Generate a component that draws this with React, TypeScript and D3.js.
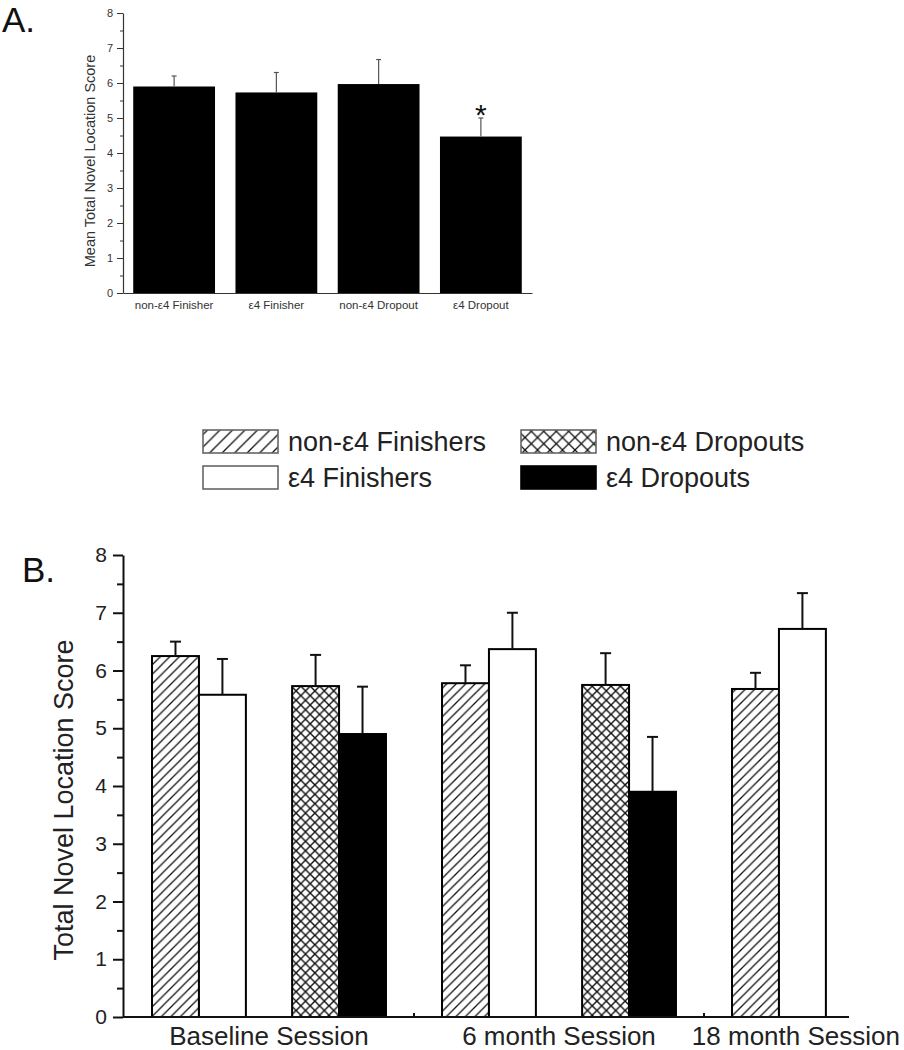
import React, { useEffect, useRef } from 'react';
import * as d3 from 'd3';

// panel A: mean total novel location score per group
const aGroups = ['non-ε4 Finisher', 'ε4 Finisher', 'non-ε4 Dropout', 'ε4 Dropout'];
const aMeans = [5.9, 5.73, 5.97, 4.47];
const aErrors = [0.3, 0.57, 0.7, 0.53];
const aStarred = [false, false, false, true];
const aTicks = [0, 1, 2, 3, 4, 5, 6, 7, 8];

// panel B: per session
const sessions = ['Baseline Session', '6 month Session', '18 month Session'];
const groupNames = ['non-ε4 Finishers', 'ε4 Finishers', 'non-ε4 Dropouts', 'ε4 Dropouts'];
const groupCluster = ['Finishers', 'Finishers', 'Dropouts', 'Dropouts'];
const groupSub = ['non-ε4', 'ε4', 'non-ε4', 'ε4'];
const nonE4FinMeans = [6.25, 5.78, 5.68];
const nonE4FinErrors = [0.25, 0.31, 0.28];
const e4FinMeans = [5.58, 6.37, 6.72];
const e4FinErrors = [0.62, 0.63, 0.62];
const nonE4DropMeans = [5.73, 5.75, null];
const nonE4DropErrors = [0.54, 0.55, null];
const e4DropMeans = [4.9, 3.9, null];
const e4DropErrors = [0.82, 0.95, null];
const bTicks = [0, 1, 2, 3, 4, 5, 6, 7, 8];

const W = 904;
const H = 1050;
const FONT = 'Liberation Sans, Arial, sans-serif';

const App: React.FC = () => {
  const ref = useRef<SVGSVGElement>(null);

  useEffect(() => {
    if (!ref.current) return;
    const svg = d3.select(ref.current);
    svg.selectAll('*').remove();

    const defs = svg.append('defs');
    const makePattern = (id: string, s: number, cross: boolean, sw: number) => {
      const p = defs
        .append('pattern')
        .attr('id', id)
        .attr('patternUnits', 'userSpaceOnUse')
        .attr('width', s)
        .attr('height', s);
      p.append('rect').attr('width', s).attr('height', s).attr('fill', '#fff');
      p.append('path')
        .attr('d', `M0,${s} L${s},0 M${-s / 4},${s / 4} L${s / 4},${-s / 4} M${s * 0.75},${s * 1.25} L${s * 1.25},${s * 0.75}`)
        .attr('stroke', '#111')
        .attr('stroke-width', sw);
      if (cross) {
        p.append('path')
          .attr('d', `M0,0 L${s},${s} M${-s / 4},${s * 0.75} L${s / 4},${s * 1.25} M${s * 0.75},${-s / 4} L${s * 1.25},${s / 4}`)
          .attr('stroke', '#111')
          .attr('stroke-width', sw);
      }
    };
    makePattern('hatchB', 9.5, false, 1.3);
    makePattern('crossB', 9.4, true, 1.4);
    makePattern('hatchL', 12.5, false, 1.3);
    makePattern('crossL', 12.5, true, 1.3);

    // ---------- Panel A ----------
    const aLeft = 123, aRight = 532, aTop = 13, aBottom = 293;
    const ax = d3.scaleBand<string>().domain(aGroups).range([aLeft, aRight]).paddingInner(0.2).paddingOuter(0.1);
    const ay = d3.scaleLinear().domain([0, 8]).range([aBottom, aTop]);

    svg.append('text')
      .attr('x', 2).attr('y', 32)
      .attr('font-family', FONT).attr('font-size', 35).attr('fill', '#111')
      .text('A.');

    const gA = svg.append('g');
    gA.selectAll('rect.bar')
      .data(aGroups)
      .join('rect')
      .attr('class', 'bar')
      .attr('x', (d) => ax(d)!)
      .attr('width', ax.bandwidth())
      .attr('y', (d, i) => ay(aMeans[i]))
      .attr('height', (d, i) => aBottom - ay(aMeans[i]))
      .attr('fill', '#000');

    aGroups.forEach((g, i) => {
      const cx = ax(g)! + ax.bandwidth() / 2;
      const top = ay(aMeans[i] + aErrors[i]);
      gA.append('line').attr('x1', cx).attr('x2', cx).attr('y1', ay(aMeans[i])).attr('y2', top)
        .attr('stroke', '#555').attr('stroke-width', 1.2);
      gA.append('line').attr('x1', cx - 2.5).attr('x2', cx + 2.5).attr('y1', top).attr('y2', top)
        .attr('stroke', '#555').attr('stroke-width', 1.2);
      if (aStarred[i]) {
        gA.append('text')
          .attr('x', cx).attr('y', top + 7)
          .attr('text-anchor', 'middle')
          .attr('font-family', FONT).attr('font-size', 30).attr('fill', '#111')
          .text('*');
      }
    });

    const aYAxis = gA.append('g')
      .attr('transform', `translate(${aLeft},0)`)
      .call(d3.axisLeft(ay).tickValues(aTicks).tickFormat(d3.format('d')).tickSize(6).tickSizeOuter(0).tickPadding(4));
    aYAxis.select('.domain').attr('stroke', '#333').attr('stroke-width', 1.2);
    aYAxis.selectAll('.tick line').attr('stroke', '#333');
    aYAxis.selectAll('text').attr('font-family', FONT).attr('font-size', 11).attr('fill', '#333');
    const aMinor = gA.append('g')
      .attr('transform', `translate(${aLeft},0)`)
      .call(d3.axisLeft(ay).tickValues(d3.range(0.5, 8, 1)).tickFormat(() => '').tickSize(3).tickSizeOuter(0));
    aMinor.select('.domain').remove();
    aMinor.selectAll('.tick line').attr('stroke', '#333');

    const aXAxis = gA.append('g')
      .attr('transform', `translate(0,${aBottom})`)
      .call(d3.axisBottom(ax).tickSize(0).tickPadding(7.5));
    aXAxis.select('.domain').attr('stroke', '#333').attr('stroke-width', 1.2);
    aXAxis.selectAll('text').attr('font-family', FONT).attr('font-size', 11.5).attr('fill', '#333');

    gA.append('text')
      .attr('transform', `translate(95,${(aTop + aBottom) / 2 + 8}) rotate(-90)`)
      .attr('text-anchor', 'middle')
      .attr('font-family', FONT).attr('font-size', 14.5).attr('fill', '#333')
      .text('Mean Total Novel Location Score');

    // ---------- Panel B ----------
    const bLeft = 123, bTop = 555, bBottom = 1017, sessionStep = 290;
    svg.append('text')
      .attr('x', 22).attr('y', 582)
      .attr('font-family', FONT).attr('font-size', 35).attr('fill', '#111')
      .text('B.');

    const x0 = d3.scaleBand<string>().domain(sessions).range([bLeft + 1, bLeft + 1 + sessionStep * sessions.length]);
    const x1 = d3.scaleBand<string>().domain(['Finishers', 'Dropouts']).range([0, x0.bandwidth()]).paddingInner(0.33).paddingOuter(0.2);
    const x2 = d3.scaleBand<string>().domain(['non-ε4', 'ε4']).range([0, x1.bandwidth()]);
    const by = d3.scaleLinear().domain([0, 8]).range([bBottom, bTop]);

    const means = [nonE4FinMeans, e4FinMeans, nonE4DropMeans, e4DropMeans];
    const errors = [nonE4FinErrors, e4FinErrors, nonE4DropErrors, e4DropErrors];
    const barFill = ['url(#hatchB)', '#fff', 'url(#crossB)', '#000'];
    const legendFill = ['url(#hatchL)', '#fff', 'url(#crossL)', '#000'];

    const rows: { s: string; gi: number; v: number; e: number }[] = [];
    sessions.forEach((s, si) => {
      groupNames.forEach((g, gi) => {
        const v = means[gi][si];
        if (v == null) return;
        rows.push({ s, gi, v, e: errors[gi][si] as number });
      });
    });
    const barX = (r: { s: string; gi: number }) => x0(r.s)! + x1(groupCluster[r.gi])! + x2(groupSub[r.gi])!;

    const gB = svg.append('g');
    gB.selectAll('rect.bar')
      .data(rows)
      .join('rect')
      .attr('class', 'bar')
      .attr('x', (r) => barX(r))
      .attr('width', x2.bandwidth())
      .attr('y', (r) => by(r.v))
      .attr('height', (r) => bBottom - by(r.v))
      .attr('fill', (r) => barFill[r.gi])
      .attr('stroke', '#000')
      .attr('stroke-width', 2);

    rows.forEach((r) => {
      const cx = barX(r) + x2.bandwidth() / 2;
      const top = by(r.v + r.e);
      gB.append('line').attr('x1', cx).attr('x2', cx).attr('y1', by(r.v)).attr('y2', top)
        .attr('stroke', '#111').attr('stroke-width', 2);
      gB.append('line').attr('x1', cx - 5.5).attr('x2', cx + 5.5).attr('y1', top).attr('y2', top)
        .attr('stroke', '#111').attr('stroke-width', 2);
    });

    // y axis
    const bYAxis = gB.append('g')
      .attr('transform', `translate(${bLeft},0)`)
      .call(d3.axisLeft(by).tickValues(bTicks).tickFormat(d3.format('d')).tickSize(10).tickSizeOuter(0).tickPadding(6));
    bYAxis.select('.domain').attr('stroke', '#111').attr('stroke-width', 2);
    bYAxis.selectAll('.tick line').attr('stroke', '#111').attr('stroke-width', 2);
    bYAxis.selectAll('text').attr('font-family', FONT).attr('font-size', 21).attr('fill', '#222');
    const bMinor = gB.append('g')
      .attr('transform', `translate(${bLeft},0)`)
      .call(d3.axisLeft(by).tickValues(d3.range(0.5, 8, 1)).tickFormat(() => '').tickSize(6).tickSizeOuter(0));
    bMinor.select('.domain').remove();
    bMinor.selectAll('.tick line').attr('stroke', '#111').attr('stroke-width', 2);

    // x axis: runs to middle of last session band, small inward ticks at session boundaries
    const last = sessions[sessions.length - 1];
    gB.append('line')
      .attr('x1', bLeft).attr('x2', x0(last)! + x0.bandwidth() / 2)
      .attr('y1', bBottom).attr('y2', bBottom)
      .attr('stroke', '#111').attr('stroke-width', 2);
    sessions.slice(0, -1).forEach((s) => {
      const bx = x0(s)! + x0.bandwidth();
      gB.append('line').attr('x1', bx).attr('x2', bx).attr('y1', bBottom).attr('y2', bBottom - 4)
        .attr('stroke', '#111').attr('stroke-width', 2);
    });
    sessions.forEach((s) => {
      const t = gB.append('text')
        .attr('y', bBottom + 28)
        .attr('text-anchor', 'middle')
        .attr('font-family', FONT).attr('font-size', 26).attr('fill', '#222')
        .text(s);
      const len = (t.node() as SVGTextElement).getComputedTextLength();
      const cx = Math.min(x0(s)! + x0.bandwidth() / 2, W - 4 - len / 2);
      t.attr('x', cx);
    });

    gB.append('text')
      .attr('transform', `translate(73,${(bTop + bBottom) / 2 + 14}) rotate(-90)`)
      .attr('text-anchor', 'middle')
      .attr('font-family', FONT).attr('font-size', 27).attr('fill', '#222')
      .text('Total Novel Location Score');

    // legend: 2 x 2 grid
    const legCols = [203, 521];
    const legRows = [430, 466];
    const legOrder = [0, 2, 1, 3];
    legOrder.forEach((gi, k) => {
      const lx = legCols[k % 2];
      const ly = legRows[Math.floor(k / 2)];
      gB.append('rect')
        .attr('x', lx).attr('y', ly).attr('width', 75).attr('height', 23)
        .attr('fill', legendFill[gi])
        .attr('stroke', gi === 3 ? '#000' : '#666').attr('stroke-width', 1.6);
      gB.append('text')
        .attr('x', lx + 85).attr('y', ly + 11.5)
        .attr('dy', '0.35em')
        .attr('font-family', FONT).attr('font-size', 27).attr('fill', '#222')
        .text(groupNames[gi]);
    });
  }, []);

  return (
    <svg
      ref={ref}
      width={W}
      height={H}
      style={{ position: 'absolute', left: 0, top: 0, background: '#fff' }}
    />
  );
};

export default App;
